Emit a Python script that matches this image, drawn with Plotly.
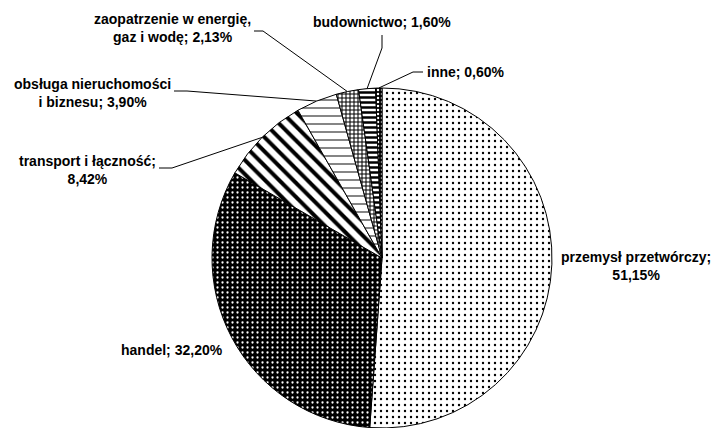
import math

import plotly.graph_objects as go

W, H = 717, 428

sectors = ["przemysł przetwórczy", "handel", "transport i łączność", "obsługa nieruchomości i biznesu",
           "zaopatrzenie w energię, gaz i wodę", "budownictwo", "inne"]
shares = [51.15, 32.20, 8.42, 3.90, 2.13, 1.60, 0.60]
label_text = ["przemysł przetwórczy;<br>51,15%", "handel; 32,20%", "transport i łączność;<br>8,42%",
              "obsługa nieruchomości<br>i biznesu; 3,90%", "zaopatrzenie w energię,<br>gaz i wodę; 2,13%",
              "budownictwo; 1,60%", "inne; 0,60%"]

# black & white fills, one per slice
shapes = [".", ".", "\\", "-", "+", "-", "."]
fg = ["black", "white", "black", "#666666", "black", "black", "white"]
bg = ["white", "black", "white", "white", "white", "white", "black"]
psize = [6, 5, 10, 8, 4, 5, 4]
solid = [0.12, 0.16, 0.4, 0.2, 0.45, 0.5, 0.3]

# pie placement in pixels (centre / radius)
cx, r = 382, 170
cy = H - r

# label boxes: x, y, anchor ; leader elbow and end (None = no leader)
lab_pos = [(713, 266, "right"), (225, 350, "right"), (158, 170, "right"), (173, 93, "right"),
           (253, 28, "right"), (382, 22, "center"), (425, 72, "left")]
leaders = [None, None, [(172, 168), (159, 168)], [(187, 91), (174, 91)], [(263, 31), (254, 31)],
           [(382, 48), (382, 35)], [(413, 72), (423, 72)]]

fig = go.Figure()
fig.add_trace(go.Pie(
    labels=sectors, values=shares, sort=False, direction="clockwise", rotation=0,
    textinfo="none", hoverinfo="label+percent", showlegend=False,
    domain=dict(x=[(cx - r) / W, (cx + r) / W], y=[0, 2 * r / H]),
    marker=dict(colors=["white"] * len(shares), line=dict(color="black", width=1),
                pattern=dict(shape=shapes, fgcolor=fg, bgcolor=bg, size=psize, solidity=solid,
                             fillmode="replace")),
))

total = sum(shares)
cum = 0
for i, v in enumerate(shares):
    ang = 2 * math.pi * (cum + v / 2) / total
    cum += v
    ex, ey = cx + r * math.sin(ang), cy - r * math.cos(ang)
    if leaders[i]:
        xs = [ex] + [p[0] for p in leaders[i]]
        ys = [ey] + [p[1] for p in leaders[i]]
        fig.add_trace(go.Scatter(x=xs, y=ys, mode="lines", line=dict(color="black", width=1),
                                 hoverinfo="skip", showlegend=False))
    lx, ly, anc = lab_pos[i]
    fig.add_annotation(x=lx, y=ly, xref="x", yref="y", text=label_text[i], showarrow=False,
                       xanchor=anc, yanchor="middle", align="center")

fig.update_layout(
    width=W, height=H, margin=dict(l=0, r=0, t=0, b=0),
    paper_bgcolor="white", plot_bgcolor="rgba(0,0,0,0)",
    font=dict(family="Liberation Sans, Arial, sans-serif", size=14, color="black"),
    xaxis=dict(range=[0, W], visible=False, fixedrange=True),
    yaxis=dict(range=[H, 0], visible=False, fixedrange=True),
)
fig.update_annotations(font=dict(family="Liberation Sans, Arial, sans-serif", size=14, color="black",
                                 weight="bold"))

# page body has an 8px default margin, drop it so the figure fills the window
fig.write_html("out.html", config={"displayModeBar": False},
               post_script="document.body.style.margin='0';")
